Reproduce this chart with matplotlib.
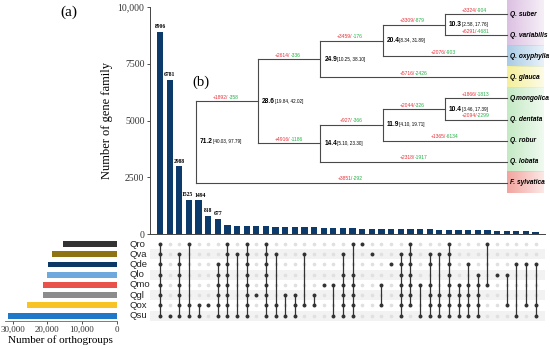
import numpy as np
import matplotlib.pyplot as plt

W, H = 550, 345
SERIF = 'Liberation Serif'
SANS = 'Liberation Sans'

# ----------------------------
# Data
# ----------------------------
species = ['Qro', 'Qva', 'Qde', 'Qlo', 'Qmo', 'Qgl', 'Qox', 'Qsu']  # top -> bottom
set_sizes = [15560, 18730, 19700, 20000, 21150, 21330, 25940, 31240]
set_colors = ['#333333', '#8f7414', '#0c3866', '#6fa8dc', '#e8524a',
              '#8c8c8c', '#f7c325', '#1f78c8']

ALL = species
inter_sets = [
    ALL, ['Qsu'], ['Qva', 'Qde', 'Qlo', 'Qmo', 'Qgl', 'Qox', 'Qsu'],
    ['Qro', 'Qox', 'Qsu'], ['Qox', 'Qsu'], ['Qox'],
    ['Qde', 'Qlo', 'Qmo', 'Qgl', 'Qox', 'Qsu'], ALL, ['Qva', 'Qsu'], ALL,
    ['Qgl'], ALL, ['Qva', 'Qox', 'Qsu'], ['Qgl', 'Qsu'], ['Qgl', 'Qox', 'Qsu'],
    ['Qva', 'Qox'], ['Qgl', 'Qox'], ['Qmo'], ['Qmo', 'Qsu'],
    ['Qva', 'Qlo', 'Qmo', 'Qgl', 'Qox', 'Qsu'],
    ['Qro', 'Qlo', 'Qmo', 'Qgl', 'Qox', 'Qsu'], ['Qro'], ['Qva'],
    ['Qmo', 'Qox'], ['Qde'], ['Qva', 'Qde', 'Qlo', 'Qmo', 'Qgl', 'Qox', 'Qsu'],
    ['Qro', 'Qva', 'Qde', 'Qlo', 'Qmo', 'Qgl', 'Qox'], ['Qmo', 'Qsu'],
    ['Qva', 'Qde', 'Qmo', 'Qgl', 'Qox', 'Qsu'], ['Qva', 'Qgl', 'Qox', 'Qsu'],
    ALL, ['Qmo', 'Qgl', 'Qox', 'Qsu'], ['Qde', 'Qmo', 'Qgl', 'Qox', 'Qsu'],
    ['Qlo', 'Qmo', 'Qgl', 'Qox', 'Qsu'], ['Qro', 'Qmo'], ['Qlo'],
    ['Qlo', 'Qox'], ['Qde', 'Qsu'], ['Qde', 'Qox'], ['Qde', 'Qox', 'Qsu'],
]
inter_sizes = [8906, 6781, 2988, 1525, 1494, 818, 677,
               390, 385, 375, 365, 355, 340, 330, 320, 310, 300, 290, 285,
               275, 265, 255, 250, 245, 240, 235, 230, 225, 215, 210, 200,
               195, 185, 175, 170, 160, 150, 140, 125, 105]
n_labeled = 7

# phylogeny: (name, age, CI, (gain, loss), children)
tree = ('root', '71.2', '[40.03, 97.79]', None, [
    ('n1', '28.6', '[19.84, 42.02]', (1892, 358), [
        ('n2', '24.9', '[10.25, 38.10]', (2614, 336), [
            ('n3', '20.4', '[8.34, 31.89]', (3459, 176), [
                ('n4', '10.3', '[2.58, 17.76]', (3309, 879), [
                    ('Q. suber', None, None, (3324, 904), []),
                    ('Q. variabilis', None, None, (6291, 4681), []),
                ]),
                ('Q. oxyphylla', None, None, (2076, 903), []),
            ]),
            ('Q. glauca', None, None, (5716, 2426), []),
        ]),
        ('n5', '14.4', '[5.10, 23.30]', (4916, 1186), [
            ('n6', '11.9', '[4.10, 19.71]', (927, 366), [
                ('n7', '10.4', '[3.46, 17.39]', (2044, 326), [
                    ('Q.mongolica', None, None, (1866, 1813), []),
                    ('Q. dentata', None, None, (2094, 2299), []),
                ]),
                ('Q. robur', None, None, (1365, 6134), []),
            ]),
            ('Q. lobata', None, None, (2318, 1917), []),
        ]),
    ]),
    ('F. sylvatica', None, None, (3851, 292), []),
])
clade_groups = [(0, 1, '#dcc0e2'), (2, 2, '#a9cbe6'), (3, 3, '#f5f09a'),
                (4, 7, '#c4eac4'), (8, 8, '#f2a49e')]
tip_depth = 5


def px_axes(l, t, r, b):
    return fig.add_axes([l / W, 1 - b / H, (r - l) / W, (b - t) / H])


fig = plt.figure(figsize=(W / 100, H / 100), dpi=100)

ncol = len(inter_sizes)
xs = np.arange(ncol)
XL = (-1.04, 39.98)

# ----------------------------
# Intersection bars
# ----------------------------
ax = px_axes(150, 7, 545, 234.3)
ax.bar(xs, inter_sizes, width=0.65, color='#0b3a6b')
ax.set_xlim(*XL)
ax.set_ylim(0, 10000)
ax.set_yticks([0, 2500, 5000, 7500, 10000])
ax.set_yticklabels(['0', '2500', '5000', '7500', '10,000'], fontfamily=SERIF, fontsize=7)
ax.set_xticks([])
ax.tick_params(axis='y', length=2.5, width=0.6, pad=1.5, colors='#333333')
for s in ['top', 'right']:
    ax.spines[s].set_visible(False)
for s in ['left', 'bottom']:
    ax.spines[s].set_linewidth(0.7)
    ax.spines[s].set_color('#444444')
ax.set_ylabel('Number of gene family', fontfamily=SERIF, fontsize=9, labelpad=3)
nudge = [0, 0, 0, -0.15, 0.15, 0, 0]  # keep the 1525/1494 labels apart
for i in range(n_labeled):
    ax.text(xs[i] + nudge[i], inter_sizes[i] + 120, str(inter_sizes[i]), ha='center',
            va='bottom', fontsize=4.1, fontweight='bold', fontfamily=SERIF)
ax.text(-0.205, 0.975, '(a)', transform=ax.transAxes, fontsize=11, fontfamily=SERIF,
        ha='center', va='center')

# ----------------------------
# Matrix
# ----------------------------
axm = px_axes(150, 239, 545, 321)
nrow = len(species)
row_y = {sp: nrow - 1 - k for k, sp in enumerate(species)}
for k, sp in enumerate(species):
    if k % 2 == 1:
        axm.axhspan(row_y[sp] - 0.5, row_y[sp] + 0.5, color='#f2f2f2', zorder=0, lw=0)
gx, gy = np.meshgrid(xs, np.arange(nrow))
axm.scatter(gx.ravel(), gy.ravel(), s=7, color='#e0e0e0', zorder=1, lw=0)
for i, members in enumerate(inter_sets):
    ys = [row_y[m] for m in members]
    if len(ys) > 1:
        axm.plot([i, i], [min(ys), max(ys)], color='#333333', lw=0.9, zorder=2)
    axm.scatter([i] * len(ys), ys, s=8, color='#333333', zorder=3, lw=0)
axm.set_xlim(*XL)
axm.set_ylim(-0.52, 7.49)
axm.axis('off')
for sp in species:
    axm.text(-3.22, row_y[sp], sp, ha='left', va='center', fontsize=6.8,
             fontfamily=SANS, color='#222222')

# ----------------------------
# Set size bars
# ----------------------------
axl = px_axes(5, 239, 116.7, 321)
axl.barh([row_y[s] for s in species], set_sizes, height=0.58, color=set_colors)
axl.set_xlim(32221, 0)
axl.set_ylim(-0.52, 7.49)
axl.set_yticks([])
axl.set_xticks([30000, 20000, 10000, 0])
axl.set_xticklabels(['30,000', '20,000', '10,000', '0'], fontfamily=SERIF, fontsize=6.5)
axl.tick_params(axis='x', length=2, width=0.6, pad=1.5, colors='#333333')
for s in ['top', 'right', 'left']:
    axl.spines[s].set_visible(False)
axl.spines['bottom'].set_linewidth(0.6)
axl.spines['bottom'].set_color('#666666')
axl.set_xlabel('Number of orthogroups', fontfamily=SERIF, fontsize=8, labelpad=1)

# ----------------------------
# Phylogenetic tree (b)
# ----------------------------
axt = px_axes(180, 0, 550, 200)
axt.patch.set_alpha(0)

tips = []


def layout(node, depth):
    name, age, ci, gl, children = node
    if not children:
        tips.append(name)
        return {'name': name, 'x': tip_depth, 'y': len(tips) - 1, 'gl': gl, 'kids': []}
    kids = [layout(c, depth + 1) for c in children]
    y = (kids[0]['y'] + kids[-1]['y']) / 2
    return {'name': name, 'x': depth, 'y': y, 'age': age, 'ci': ci, 'gl': gl, 'kids': kids}


root = layout(tree, 0)
LC = '#4a4a4a'


def draw(n):
    if not n['kids']:
        axt.text(n['x'] + 0.045, n['y'], n['name'], ha='left', va='center',
                 fontsize=4.8, fontweight='bold', fontstyle='italic', fontfamily=SANS)
        return
    ys = [k['y'] for k in n['kids']]
    axt.plot([n['x'], n['x']], [min(ys), max(ys)], color=LC, lw=0.8)
    axt.text(n['x'] + 0.065, n['y'], n['age'], ha='left', va='center',
             fontsize=4.8, fontweight='bold', fontfamily=SANS)
    axt.text(n['x'] + 0.27, n['y'], n['ci'], ha='left', va='center',
             fontsize=3.3, fontfamily=SANS)
    for k in n['kids']:
        axt.plot([n['x'], k['x']], [k['y'], k['y']], color=LC, lw=0.8)
        g, l = k['gl']
        xm = (n['x'] + k['x']) / 2 + 0.02
        axt.text(xm, k['y'] - 0.07, f'+{g}/', ha='right', va='bottom',
                 fontsize=3.6, color='#e8333a', fontfamily=SANS)
        axt.text(xm, k['y'] - 0.07, f'-{l}', ha='left', va='bottom',
                 fontsize=3.6, color='#27b14a', fontfamily=SANS)
        draw(k)


# clade colour strips
grad = np.linspace(1.0, 0.25, 64)
for a, b, c in clade_groups:
    rgba = np.zeros((1, 64, 4))
    rgba[..., :3] = plt.matplotlib.colors.to_rgb(c)
    rgba[..., 3] = grad
    y0 = a - 0.5 if a > 0 else -0.68
    axt.imshow(rgba, extent=(tip_depth, tip_depth + 0.58, b + 0.5, y0),
               aspect='auto', zorder=0, interpolation='bilinear')

draw(root)
axt.text(0.08, 3.22, '(b)', ha='center', va='center', fontsize=10.5, fontfamily=SERIF)
axt.set_xlim(-0.257, 5.691)
axt.set_ylim(8.822, -0.679)
axt.axis('off')

fig.savefig('out.png', dpi=100)
